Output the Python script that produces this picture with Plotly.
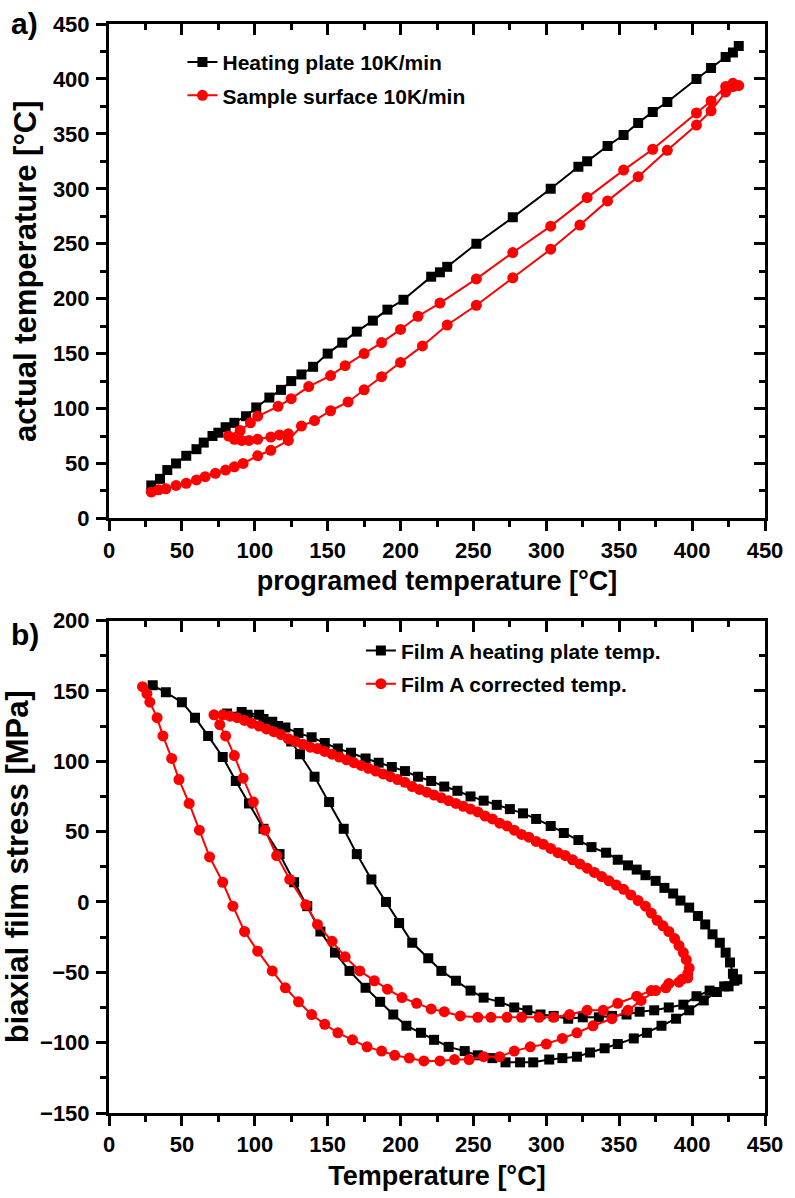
import plotly.graph_objects as go

# ---------------- Panel a data ----------------
a_plate_x = [29, 35, 40, 46, 53, 60, 65, 71, 75, 80, 86, 94, 101, 110, 118, 125, 132, 140, 150, 160,
             170, 181, 191, 202, 221, 227, 232, 252, 277, 303, 322, 328, 342, 353, 363, 373, 383, 403,
             413, 423, 428, 432]
a_plate_y = [30, 36, 44, 50, 57, 63, 69, 75, 78, 83, 87, 93, 101, 110, 117, 125, 131, 138, 150, 160,
             170, 180, 190, 199, 220, 224, 229, 250, 274, 300, 320, 325, 339, 349, 360, 370, 379, 400,
             410, 420, 424, 430]

a_surf_x = [29, 34, 39, 46, 53, 60, 66, 73, 80, 86, 92, 102, 111, 123, 132, 141, 152, 164, 175, 187,
            200, 215, 232, 252, 277, 303, 323, 342, 363, 383, 403, 413, 423, 428, 432,
            428, 423, 413, 403, 373, 353, 328, 303, 277, 252, 227, 212, 200, 187, 175, 162, 152, 137,
            125, 116, 102, 97, 90, 82,
            86, 91, 96, 102, 111, 117, 123]
a_surf_y = [24, 26, 27, 30, 32, 35, 38, 41, 44, 47, 50, 57, 62, 71, 84, 89, 98, 106, 117, 129,
            142, 157, 176, 194, 219, 245, 267, 289, 311, 335, 358, 371, 388, 393, 394,
            396, 393, 380, 369, 336, 317, 292, 266, 242, 218, 196, 184, 172, 160, 150, 139, 130, 120,
            109, 102, 93, 87, 80, 75,
            72, 71, 71, 72, 74, 76, 77]

# ---------------- Panel b data ----------------
b_plate_x = [30, 39, 50, 59, 68, 78, 87, 96, 106, 117, 127, 136, 145, 155, 165, 176, 186, 195, 204, 214,
             223, 233, 244, 253, 263, 272, 282, 291, 302, 311, 321, 330, 340, 349, 360, 369, 379, 389,
             398, 408, 417, 425, 431,
             428, 426, 423, 419, 414, 409, 404, 398, 392, 387, 381, 375, 368, 362, 356, 349, 341, 331,
             322, 312, 303, 293, 284, 275, 266, 257, 248, 239, 230, 221, 212, 203, 194, 185, 176, 166,
             157, 148, 139, 130, 121, 112, 103, 91, 81,
             95, 106, 116, 125, 131, 141, 151, 161, 170, 180, 190, 199, 208, 219, 228, 238, 248, 257,
             268, 278, 287, 296, 305, 315, 325, 336, 345, 355, 364, 374, 384, 394, 403, 412, 422, 429]
b_plate_y = [154, 149, 142, 131, 118, 103, 86, 70, 52, 34, 14, -3, -21, -36, -49, -61, -71, -80, -88, -93,
             -98, -103, -106, -109, -111, -114, -114, -114, -112, -111, -110, -107, -104, -101, -97, -93,
             -88, -83, -77, -70, -64, -60, -55,
             -51, -43, -36, -29, -23, -16, -10, -4, 1, 6, 10, 15, 19, 23, 26, 30, 35, 39,
             44, 49, 54, 59, 63, 66, 69, 72, 75, 79, 82, 86, 89, 93, 96, 99, 102, 106,
             109, 113, 117, 120, 124, 128, 133, 135, 134,
             133, 130, 125, 114, 105, 89, 71, 52, 34, 16, 0, -15, -29, -40, -49, -56, -63, -68,
             -71, -75, -77, -80, -81, -83, -82, -82, -81, -80, -78, -77, -75, -73, -67, -63, -60, -56]

b_corr_x = [23, 26, 28, 33, 37, 43, 48, 55, 62, 69, 78, 85, 93, 102, 112, 121, 130, 139, 148, 157,
            167, 177, 187, 196, 206, 216, 227, 237, 247, 257, 268, 278, 289, 300, 311, 321, 332, 345,
            356, 365, 375, 384, 393, 397,
            398, 396, 394, 391, 388, 384, 380, 376, 372, 368, 363, 358, 353, 348, 343, 338, 333, 328,
            323, 318, 313, 308, 303, 298, 293, 288, 283, 278, 273, 268, 263, 258, 253, 248, 243, 238,
            233, 228, 223, 218, 213, 208, 203, 198, 193, 188, 183, 178, 173, 168, 163, 158, 153, 148,
            143, 138, 133, 128, 123, 118, 113, 108, 103, 98, 93, 88, 83, 78, 72,
            76, 80, 86, 92, 99, 107, 115, 124, 135, 143, 153, 162, 172, 182, 191, 201, 211, 221, 230,
            241, 253, 262, 273, 283, 295, 305, 316, 328, 339, 349, 362, 372, 382, 391, 397]
b_corr_y = [153, 148, 142, 131, 118, 102, 87, 70, 51, 32, 14, -3, -21, -35, -49, -61, -71, -80, -87, -93,
            -98, -103, -106, -109, -111, -113, -113, -112, -112, -110, -110, -106, -103, -101, -97, -93,
            -88, -83, -77, -70, -63, -58, -55, -51,
            -47, -41, -36, -31, -26, -21, -17, -13, -8, -3, 1, 5, 9, 12, 15, 18, 21, 24,
            27, 30, 33, 35, 38, 41, 43, 46, 48, 51, 54, 56, 59, 61, 64, 66, 68, 70,
            72, 74, 76, 78, 80, 82, 85, 87, 89, 91, 93, 95, 97, 99, 101, 103, 105, 107,
            109, 110, 112, 114, 116, 119, 121, 123, 125, 127, 129, 131, 132, 133, 133,
            126, 118, 104, 88, 71, 51, 33, 16, -2, -16, -28, -39, -49, -56, -62, -68, -72, -76, -78,
            -81, -82, -82, -82, -82, -82, -82, -80, -77, -77, -72, -67, -63, -61, -57, -54]

# tick values
tick_vals_x = [0, 50, 100, 150, 200, 250, 300, 350, 400, 450]
tick_vals_ya = [0, 50, 100, 150, 200, 250, 300, 350, 400, 450]
tick_vals_yb = [-150, -100, -50, 0, 50, 100, 150, 200]

FONT = "Liberation Sans, Arial, sans-serif"
RED = "#ff0000"
BLACK = "#000000"

fig = go.Figure()

fig.add_trace(go.Scatter(x=a_plate_x, y=a_plate_y, mode="lines+markers", name="<b>Heating plate 10K/min</b>",
                         line=dict(color=BLACK, width=2), marker=dict(symbol="square", size=10, color=BLACK),
                         xaxis="x", yaxis="y", legend="legend", legendgroup="a1"))
fig.add_trace(go.Scatter(x=a_surf_x, y=a_surf_y, mode="lines+markers", name="<b>Sample surface 10K/min</b>",
                         line=dict(color=RED, width=2), marker=dict(symbol="circle", size=11, color=RED),
                         xaxis="x", yaxis="y", legend="legend", legendgroup="a2"))
fig.add_trace(go.Scatter(x=b_plate_x, y=b_plate_y, mode="lines+markers", name="<b>Film A heating plate temp.</b>",
                         line=dict(color=BLACK, width=2), marker=dict(symbol="square", size=10, color=BLACK),
                         xaxis="x2", yaxis="y2", legend="legend2", legendgroup="b1"))
fig.add_trace(go.Scatter(x=b_corr_x, y=b_corr_y, mode="lines+markers", name="<b>Film A corrected temp.</b>",
                         line=dict(color=RED, width=2), marker=dict(symbol="circle", size=11, color=RED),
                         xaxis="x2", yaxis="y2", legend="legend2", legendgroup="b2"))

# transparent helper traces so the mirrored (inside-tick) axes get a subplot
helper_sets = [("x3", "y", a_plate_x, a_plate_y), ("x", "y3", a_plate_x, a_plate_y),
               ("x4", "y2", b_plate_x, b_plate_y), ("x2", "y4", b_plate_x, b_plate_y)]
for xa_id, ya_id, hx, hy in helper_sets:
    fig.add_trace(go.Scatter(x=hx[:1], y=hy[:1], xaxis=xa_id, yaxis=ya_id, showlegend=False,
                             hoverinfo="skip", mode="markers", marker=dict(opacity=0)))

tickfont = dict(family=FONT, size=22, color="black", weight="bold")
xtitlefont = dict(family=FONT, size=27, color="black")
ytitlefont = dict(family=FONT, size=31, color="black")


def main_axis(rng, tv, title, tfont, standoff, lab_off):
    return dict(range=rng, tickvals=tv, ticks="outside", ticklen=10, tickwidth=3, tickcolor="black",
                showline=True, linewidth=3, linecolor="black", mirror=False,
                showgrid=False, zeroline=False, tickfont=tickfont,
                minor=dict(dtick=25, ticks="outside", ticklen=6, tickwidth=3, tickcolor="black", showgrid=False),
                title=dict(text="<b>" + title + "</b>", font=tfont, standoff=standoff),
                ticklabelstandoff=lab_off)


def mirror_axis(rng, tv, over, side, anchor):
    return dict(range=rng, tickvals=tv, ticks="inside", ticklen=11, tickwidth=3,
                tickcolor="black", overlaying=over, side=side, anchor=anchor, showticklabels=False,
                showline=True, linewidth=3, linecolor="black", showgrid=False, zeroline=False,
                layer="above traces",
                minor=dict(dtick=25, ticks="inside", ticklen=6, tickwidth=3, tickcolor="black", showgrid=False))


dom_a = [0.546, 1.0]
dom_b = [0.0, 0.4522]

xa = main_axis([0, 450], tick_vals_x, "programed temperature [°C]", xtitlefont, 10, 0)
xa.update(anchor="y", domain=[0, 1])
ya = main_axis([0, 450], tick_vals_ya, "actual temperature [°C]", ytitlefont, 8, 2)
ya.update(anchor="x", domain=dom_a)
xb = main_axis([0, 450], tick_vals_x, "Temperature [°C]", xtitlefont, 10, 0)
xb.update(anchor="y2", domain=[0, 1])
yb = main_axis([-150, 200], tick_vals_yb, "biaxial film stress [MPa]", ytitlefont, 5, 2)
yb.update(anchor="x2", domain=dom_b)

legend_font = dict(family=FONT, size=21, color="black")

fig.update_layout(
    width=795, height=1198,
    margin=dict(l=109, r=25, t=18, b=81, pad=0),
    paper_bgcolor="white", plot_bgcolor="white",
    font=dict(family=FONT, color="black"),
    xaxis=xa, yaxis=ya, xaxis2=xb, yaxis2=yb,
    xaxis3=mirror_axis([0, 450], tick_vals_x, "x", "top", "y"),
    yaxis3=mirror_axis([0, 450], tick_vals_ya, "y", "right", "x"),
    xaxis4=mirror_axis([0, 450], tick_vals_x, "x2", "top", "y2"),
    yaxis4=mirror_axis([-150, 200], tick_vals_yb, "y2", "right", "x2"),
    legend=dict(x=0.112, y=0.9836, xanchor="left", yanchor="top", font=legend_font,
                bgcolor="rgba(0,0,0,0)", borderwidth=0, traceorder="grouped", tracegroupgap=3),
    legend2=dict(x=0.384, y=0.4433, xanchor="left", yanchor="top", font=legend_font,
                 bgcolor="rgba(0,0,0,0)", borderwidth=0, traceorder="grouped", tracegroupgap=3),
    showlegend=True,
    annotations=[
        dict(text="<b>a)</b>", xref="paper", yref="paper", x=-0.153, y=1.0175, xanchor="left", yanchor="top",
             showarrow=False, font=dict(family=FONT, size=30, color="black")),
        dict(text="<b>b)</b>", xref="paper", yref="paper", x=-0.153, y=0.456, xanchor="left", yanchor="top",
             showarrow=False, font=dict(family=FONT, size=30, color="black")),
    ],
)

fig.write_html("out.html")
